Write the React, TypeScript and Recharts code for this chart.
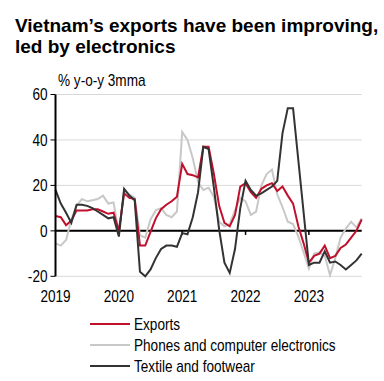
import React from "react";
import { CartesianGrid, Line, LineChart, ReferenceLine, XAxis, YAxis } from "recharts";

// month index 0 = Jan 2019 ... 58 = Nov 2023, % y-o-y 3mma
const YEAR_TICKS = [0, 12, 24, 36, 48];
const YEAR_LABELS = ["2019", "2020", "2021", "2022", "2023"];
const Y_TICKS = [-20, 0, 20, 40, 60];

const exportsYoY = [
  6.5, 6, 2.5, 4.5, 9, 9, 9, 9.5, 9.5, 8.5,
  7.5, 8, 0, 16.5, 14.5, 14, -6.5, -6.5, -0.5, 5.5,
  9.5, 11.5, 13, 15, 29.5, 25, 24.5, 23.5, 37, 37,
  25, 11, 3.5, 2, 7, 19.5, 21, 17, 14.5, 18.5,
  20, 21, 17.5, 19.5, 15.5, 12, 2, -5.5, -14, -11,
  -10, -6.5, -12, -11, -7.5, -6, -3, 0, 5,
];

const phonesYoY = [
  -5.5, -6.5, -4, 5, 11, 14, 13, 13.5, 14, 15.5,
  12, 12.5, -1, 18, 16, 14.5, -2, -3, 5, 9,
  10, 7, 6, 8.5, 43.5, 40, 32, 21.5, 18, 19,
  15, 4, 2, 3, 9, 14.5, 13, 7, 8.5, 20,
  25, 27, 16, 10.5, 4, 3, -2.5, -9.5, -16.5, -10,
  -9.5, -11, -19.5, -12, -3, 1, 4, 1.5, 5.5,
];

const textileYoY = [
  18, 12, 8, 3.5, 11.5, 11.5, 11, 10, 8.5, 7,
  5.5, 6, -2.5, 18.5, 15.5, 13.5, -18, -20, -17, -12,
  -8, -6.5, -6.5, -7, -1, -1.5, 6, 17, 37, 36,
  19, 0.5, -14, -18.5, -8, 10, 22, 18, 15.5, 16.5,
  18, 19.5, 22, 43, 54, 54, 31, 8, -15, -14,
  -14, -9, -14, -13.5, -15, -17, -15, -13, -10,
];

const RED = "#c0102c";
const GRAY = "#c8c8c8";
const DARK = "#333333";
const FONT = "'Liberation Sans', Arial, sans-serif";
const NARROW = 0.85; // fake Arial Narrow

const data = exportsYoY.map((v, i) => ({
  m: i,
  exports: v,
  phones: phonesYoY[i],
  textile: textileYoY[i],
}));

const legendItems = [
  { name: "Exports", color: RED },
  { name: "Phones and computer electronics", color: GRAY },
  { name: "Textile and footwear", color: DARK },
];

function NarrowText({ x, y, anchor = "start", dy, children }: any) {
  return (
    <text
      transform={`translate(${x},${y}) scale(${NARROW},1)`}
      textAnchor={anchor}
      dy={dy}
      fontSize={16}
      fontFamily={FONT}
      fill="#000"
    >
      {children}
    </text>
  );
}

const XTick = ({ x, y, payload }: any) => (
  <NarrowText x={x} y={y} anchor="middle" dy="0.71em">
    {YEAR_LABELS[YEAR_TICKS.indexOf(payload.value)]}
  </NarrowText>
);

const YTick = ({ x, y, payload }: any) => (
  <NarrowText x={x} y={y} anchor="end" dy="0.355em">
    {payload.value}
  </NarrowText>
);

export default function App() {
  return (
    <div style={{ position: "absolute", left: 0, top: 0, width: 384, height: 381, background: "#fff" }}>
      <LineChart
        width={384}
        height={381}
        data={data}
        margin={{ top: 94.5, right: 22.3, bottom: 74.7, left: 0 }}
        style={{ position: "absolute", left: 0, top: 0 }}
      >
        <CartesianGrid vertical={false} stroke="#d9d9d9" />
        <XAxis
          dataKey="m"
          type="number"
          domain={[0, 58]}
          ticks={YEAR_TICKS}
          axisLine={false}
          tickLine={false}
          tickMargin={8}
          height={30}
          tick={<XTick />}
        />
        <YAxis
          domain={[-20, 60]}
          ticks={Y_TICKS}
          width={55.5}
          axisLine={{ stroke: "#000", strokeWidth: 2 }}
          tickLine={{ stroke: "#000" }}
          tickSize={5}
          tickMargin={3}
          tick={<YTick />}
        />
        <ReferenceLine y={0} stroke="#000" strokeWidth={2} />
        {YEAR_TICKS.slice(1).map((x) => (
          <ReferenceLine
            key={x}
            segment={[{ x, y: 0 }, { x, y: -1.8 }]}
            stroke="#000"
            strokeWidth={1.5}
            ifOverflow="visible"
          />
        ))}
        <Line type="linear" dataKey="phones" stroke={GRAY} strokeWidth={2} dot={false} isAnimationActive={false} />
        <Line type="linear" dataKey="exports" stroke={RED} strokeWidth={2} dot={false} isAnimationActive={false} />
        <Line type="linear" dataKey="textile" stroke={DARK} strokeWidth={2} dot={false} isAnimationActive={false} />
      </LineChart>
      <svg width={384} height={381} style={{ position: "absolute", left: 0, top: 0, pointerEvents: "none" }}>
        <text x={15} y={31.6} fontSize={19} fontWeight="bold" fontFamily={FONT} fill="#000">
          Vietnam’s exports have been improving,
        </text>
        <text x={15} y={53} fontSize={19} fontWeight="bold" fontFamily={FONT} fill="#000">
          led by electronics
        </text>
        <NarrowText x={58} y={86}>% y-o-y 3mma</NarrowText>
        {legendItems.map((item, i) => (
          <g key={item.name}>
            <line x1={90} x2={130} y1={324 + i * 21} y2={324 + i * 21} stroke={item.color} strokeWidth={2} />
            <NarrowText x={134} y={330 + i * 21}>
              {item.name}
            </NarrowText>
          </g>
        ))}
      </svg>
    </div>
  );
}
